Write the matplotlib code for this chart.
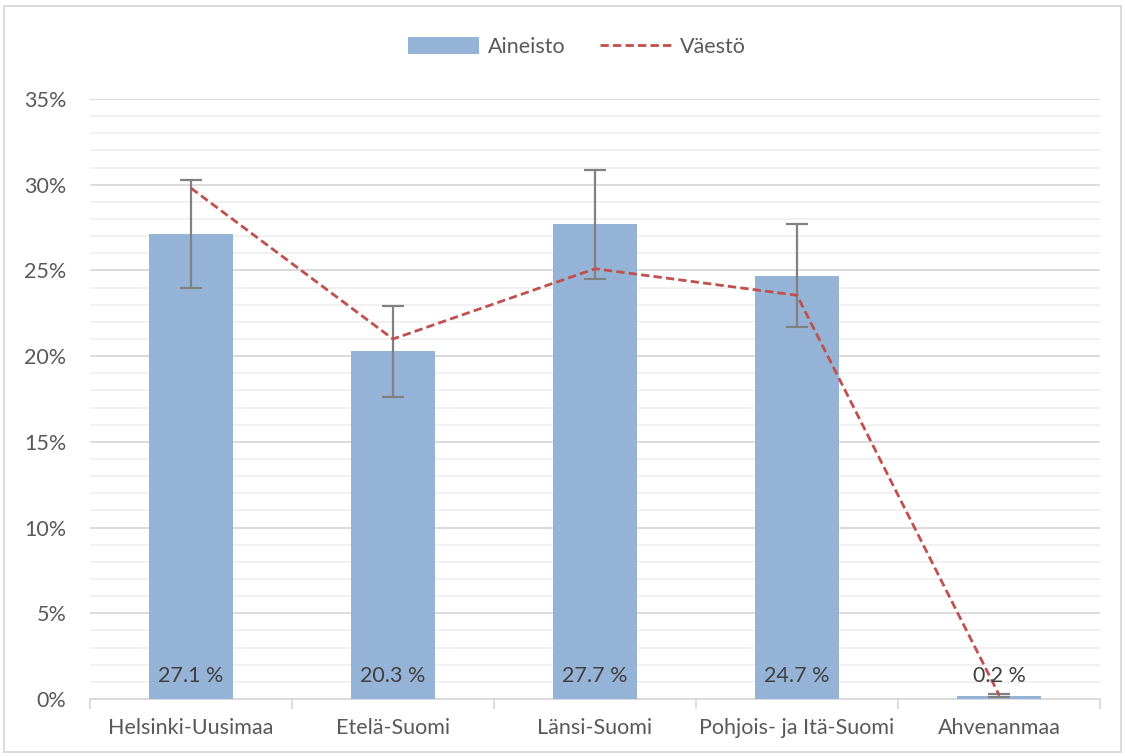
import matplotlib
matplotlib.use("Agg")
import matplotlib.pyplot as plt
from matplotlib.patches import Rectangle
from matplotlib.lines import Line2D
from matplotlib.patches import Patch
import numpy as np

categories = ["Helsinki-Uusimaa", "Etelä-Suomi", "Länsi-Suomi", "Pohjois- ja Itä-Suomi", "Ahvenanmaa"]
aineisto = [27.1, 20.3, 27.7, 24.7, 0.2]
err_low = [23.97, 17.64, 24.5, 21.7, 0.1]
err_high = [30.28, 22.95, 30.86, 27.7, 0.3]
vaesto = [29.8, 21.0, 25.1, 23.55, 0.25]
yticks = [0, 5, 10, 15, 20, 25, 30, 35]

plt.rcParams['font.family'] = ['Lato', 'DejaVu Sans']
text_color = '#595959'
fs = 15.5

fig = plt.figure(figsize=(11.25, 7.56), dpi=100)
ax = fig.add_axes([90/1125, 1-699/756, (1100-90)/1125, (699-99)/756])

x = np.arange(len(categories))
ax.set_xlim(-0.5, len(categories)-0.5)
ax.set_ylim(0, 35)

# gridlines
ax.set_yticks(yticks)
ax.set_yticks(np.arange(0, 36, 1), minor=True)
ax.yaxis.grid(True, which='major', color='#d9d9d9', lw=1.3, zorder=0)
ax.yaxis.grid(True, which='minor', color='#f0f0f0', lw=1.3, zorder=0)
ax.set_axisbelow(True)

bars = ax.bar(x, aineisto, width=0.415, color='#95b3d7', zorder=2)
lo = [a - l for a, l in zip(aineisto, err_low)]
hi = [h - a for a, h in zip(aineisto, err_high)]
ax.errorbar(x, aineisto, yerr=[lo, hi], fmt='none', ecolor='#808080', elinewidth=1.6,
            capsize=8, capthick=1.6, zorder=3)
ax.plot(x, vaesto, color='#c0504d', lw=2, ls=(0, (3, 1.5)), zorder=4)

for xi, v in zip(x, aineisto):
    ax.text(xi, 1.35, f"{v:.1f} %", ha='center', va='center',
            fontsize=fs, color='#404040', zorder=5)

ax.set_yticklabels([f"{t}%" for t in yticks], fontsize=fs, color=text_color)
ax.tick_params(axis='y', which='both', length=0, pad=17)
ax.set_xticks(x)
ax.set_xticklabels(categories, fontsize=fs, color=text_color)
ax.set_xticks(np.arange(-0.5, len(categories), 1), minor=True)
ax.tick_params(axis='x', which='major', length=0, pad=14)
ax.tick_params(axis='x', which='minor', length=7, width=1.3, color='#d9d9d9', direction='out')

for s in ['left', 'right', 'top']:
    ax.spines[s].set_visible(False)
ax.spines['bottom'].set_color('#d9d9d9')
ax.spines['bottom'].set_linewidth(1.3)
ax.spines['bottom'].set_zorder(1)

handles = [Patch(facecolor='#95b3d7', edgecolor='none'),
           Line2D([0], [0], color='#c0504d', lw=2, ls=(0, (3, 1.5)))]
leg = fig.legend(handles, ['Aineisto', 'Väestö'], loc='center', bbox_to_anchor=(577/1125, 1-47/756),
                 ncol=2, frameon=False, fontsize=fs, handlelength=3.3, handleheight=0.8,
                 columnspacing=1.6, handletextpad=0.4)
for t in leg.get_texts():
    t.set_color(text_color)

# outer chart border
fig.patches.append(Rectangle((4/1125, 4/756), 1-8/1125, 1-10/756, transform=fig.transFigure,
                             fill=False, edgecolor='#d9d9d9', lw=1.3))

fig.savefig('out.png', dpi=100)
